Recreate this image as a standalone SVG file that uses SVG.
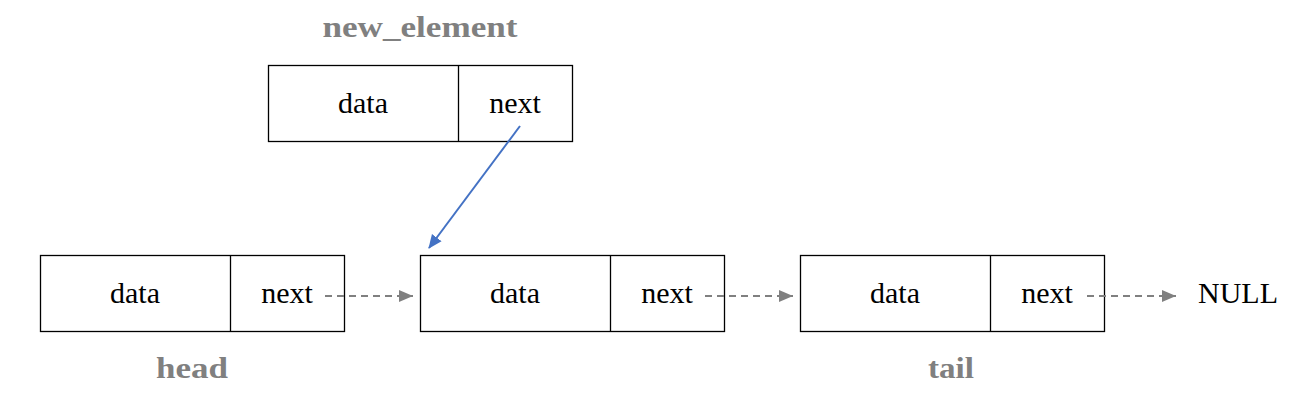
<svg xmlns="http://www.w3.org/2000/svg" width="1301" height="407" viewBox="0 0 1301 407">
<style>
.box{fill:#fff;stroke:#000;stroke-width:1.3}
.t{font-family:"Liberation Serif","Times New Roman",serif;font-size:30px;fill:#000;text-anchor:middle}
.lbl{font-family:"Liberation Serif","Times New Roman",serif;font-size:29px;font-weight:bold;fill:#808080;text-anchor:middle}
.dash{stroke:#808080;stroke-width:2;stroke-dasharray:7,5;fill:none}
</style>
<defs>
<marker id="ag" markerWidth="14" markerHeight="14" refX="14" refY="7" orient="auto" markerUnits="userSpaceOnUse" viewBox="0 0 14 14"><path d="M0,1 L14,7 L0,13 z" fill="#808080"/></marker>
<marker id="ab" markerWidth="14" markerHeight="14" refX="13" refY="7" orient="auto" markerUnits="userSpaceOnUse" viewBox="0 0 14 14"><path d="M0,1 L14,7 L0,13 z" fill="#4472C4"/></marker>
</defs>
<g id="new_element">
<rect class="box" x="268.5" y="65.5" width="304" height="76"/>
<line class="box" x1="458.5" y1="65.5" x2="458.5" y2="141.5"/>
<text class="t" x="363" y="113">data</text>
<text class="t" x="515" y="113">next</text>
<text class="lbl" x="420" y="37" textLength="195" lengthAdjust="spacingAndGlyphs">new_element</text>
</g>
<g id="head">
<rect class="box" x="40.5" y="255.5" width="304" height="76"/>
<line class="box" x1="230.5" y1="255.5" x2="230.5" y2="331.5"/>
<text class="t" x="135" y="303">data</text>
<text class="t" x="287" y="303">next</text>
<text class="lbl" x="192" y="378" textLength="72" lengthAdjust="spacingAndGlyphs">head</text>
</g>
<g id="node2">
<rect class="box" x="420.5" y="255.5" width="304" height="76"/>
<line class="box" x1="610.5" y1="255.5" x2="610.5" y2="331.5"/>
<text class="t" x="515" y="303">data</text>
<text class="t" x="667" y="303">next</text>
</g>
<g id="tail">
<rect class="box" x="800.5" y="255.5" width="304" height="76"/>
<line class="box" x1="990.5" y1="255.5" x2="990.5" y2="331.5"/>
<text class="t" x="895" y="303">data</text>
<text class="t" x="1047" y="303">next</text>
<text class="lbl" x="951" y="378" textLength="46" lengthAdjust="spacingAndGlyphs">tail</text>
</g>
<g id="null">
<text class="t" x="1238" y="303">NULL</text>
</g>
<g id="connectors">
<line class="dash" x1="325" y1="296" x2="413" y2="296" marker-end="url(#ag)"/>
<line class="dash" x1="705" y1="296" x2="793" y2="296" marker-end="url(#ag)"/>
<line class="dash" x1="1087" y1="296" x2="1176" y2="296" marker-end="url(#ag)"/>
<line x1="520" y1="126" x2="429" y2="248" stroke="#4472C4" stroke-width="2" marker-end="url(#ab)"/>
</g>
</svg>
